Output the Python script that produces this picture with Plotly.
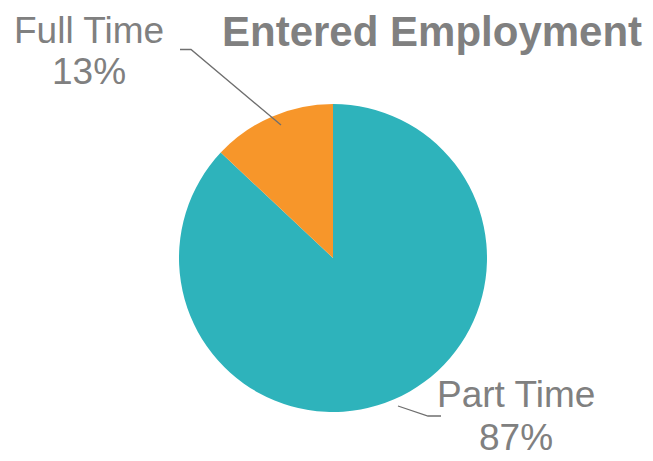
import plotly.graph_objects as go

W, H = 653, 461
categories = ["Part Time", "Full Time"]
values = [87, 13]
colors = ["#2EB3BB", "#F7962A"]
title_text = "Entered Employment"

def px(x):
    return x / W

def py(y):
    return 1 - y / H

fig = go.Figure(go.Pie(
    labels=categories, values=values, sort=False, direction="clockwise",
    rotation=0, marker=dict(colors=colors, line=dict(width=0)),
    textinfo="none", hoverinfo="label+percent", showlegend=False,
    domain=dict(x=[px(179 - 8), px(487 - 8)], y=[py(412 - 8), py(104 - 8)]),
))

gray = "#808080"
font = dict(family="Liberation Sans, Arial, sans-serif", size=37, color=gray)

pcts = [round(v / sum(values) * 100) for v in values]
label_pos = {"Full Time": (81, 22, 64), "Part Time": (508, 386, 429)}
annotations = []
for cat, pct in zip(categories, pcts):
    cx, y1, y2 = label_pos[cat]
    annotations.append(dict(x=px(cx), y=py(y1), xref="paper", yref="paper", text=cat,
                            showarrow=False, xanchor="center", yanchor="middle", font=font))
    annotations.append(dict(x=px(cx), y=py(y2), xref="paper", yref="paper", text=f"{pct}%",
                            showarrow=False, xanchor="center", yanchor="middle", font=font))
annotations.append(dict(x=px(424), y=py(23), xref="paper", yref="paper",
                        text=f"<b>{title_text}</b>", showarrow=False, xanchor="center",
                        yanchor="middle",
                        font=dict(family="Liberation Sans, Arial, sans-serif", size=42, color=gray)))

def path(pts):
    return "M " + " L ".join(f"{px(x)},{py(y)}" for x, y in pts)

shapes = [
    dict(type="path", xref="paper", yref="paper", path=path([(172, 41.5), (183, 41.5), (273, 117)]),
         line=dict(color="#6f6f6f", width=1.3)),
    dict(type="path", xref="paper", yref="paper", path=path([(390, 398), (420, 408), (433, 408)]),
         line=dict(color="#6f6f6f", width=1.3)),
]

fig.update_layout(width=W, height=H, margin=dict(l=0, r=0, t=0, b=0),
                  paper_bgcolor="white", plot_bgcolor="white",
                  annotations=annotations, shapes=shapes)
fig.write_html("out.html")
